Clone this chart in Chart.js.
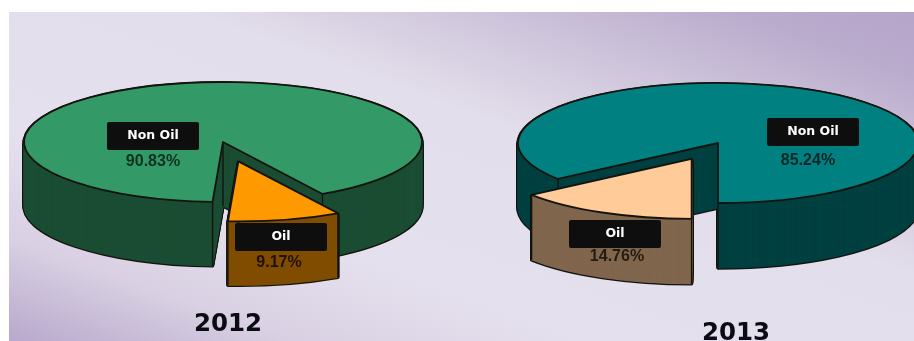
<!DOCTYPE html>
<html>
<head>
<meta charset="utf-8">
<style>
  html, body { margin: 0; padding: 0; width: 914px; height: 341px; overflow: hidden; background: #fff; }
  #panel {
    position: absolute; left: 9px; top: 12px; width: 905px; height: 329px;
    background: linear-gradient(to top right, #b8a8cc 0%, #d9d1e3 16%, #e5e0ee 32%, #e3deeb 60%, #cec4db 76%, #baaccd 90%, #b5a5ca 100%);
  }
  canvas { position: absolute; top: 0; }
</style>
<script src="https://cdn.jsdelivr.net/npm/chart.js@4/dist/chart.umd.min.js"></script>
</head>
<body>
<div id="panel"></div>
<canvas id="pie2012" width="460" height="341" style="left:0"></canvas>
<canvas id="pie2013" width="454" height="341" style="left:460px"></canvas>
<script>
const categories = ["Oil", "Non Oil"];
const values2012 = [9.17, 90.83];
const values2013 = [14.76, 85.24];

const topColors2012 = ["#ff9900", "#339966"];
const wallColors2012 = ["#804d00", "#1a4d33"];
const topColors2013 = ["#ffcc99", "#008080"];
const wallColors2013 = ["#80664d", "#004040"];

const outlineColor = "#14140f";

function slicePath(ctx, arc, x, y, squash) {
    ctx.beginPath();
    ctx.moveTo(x, y);
    ctx.ellipse(x, y, arc.outerRadius, arc.outerRadius * squash, 0, arc.startAngle, arc.endAngle);
    ctx.closePath();
}

function paintArc(ctx, arc, x, y, squash, color) {
    const saved = arc.options;
    arc.options = {...saved, backgroundColor: color};
    ctx.save();
    ctx.translate(x, y);
    ctx.scale(1, squash);
    ctx.translate(-arc.x, -arc.y);
    arc.draw(ctx);
    ctx.restore();
    arc.options = saved;
}

// tilted pie: each slice gets a dark wall stacked under its lit top
const tiltedPie = {
    id: "tiltedPie",
    beforeDatasetsDraw(chart, args, opts) {
        const ctx = chart.ctx;
        const arcs = chart.getDatasetMeta(0).data;
        const ds = chart.data.datasets[0];
        const squash = opts.ry / arcs[0].outerRadius;

        // Non Oil first so the pulled-out Oil slice lands on top of it
        [1, 0].forEach(i => {
            const arc = arcs[i];
            const mid = (arc.startAngle + arc.endAngle) / 2;
            const pull = i === 0 ? opts.pull : 0;
            const x = opts.cx + Math.cos(mid) * pull;
            const y = opts.cy + Math.sin(mid) * pull * squash;

            ctx.save();
            ctx.lineJoin = "round";
            ctx.strokeStyle = outlineColor;
            ctx.lineWidth = 3.4;
            for (let d = 1; d <= opts.depth; d++) {
                slicePath(ctx, arc, x, y + d, squash);
                ctx.stroke();
            }
            ctx.strokeStyle = opts.wallColors[i];
            ctx.lineWidth = 1;
            for (let d = opts.depth; d > 0; d--) {
                paintArc(ctx, arc, x, y + d, squash, opts.wallColors[i]);
                slicePath(ctx, arc, x, y + d, squash);
                ctx.stroke();
            }
            // vertical edges of the wall at the apex and both cut corners
            ctx.strokeStyle = outlineColor;
            ctx.lineWidth = 1.4;
            ctx.beginPath();
            ctx.moveTo(x, y);
            ctx.lineTo(x, y + opts.depth);
            [arc.startAngle, arc.endAngle].forEach(a => {
                const ex = x + Math.cos(a) * arc.outerRadius;
                const ey = y + Math.sin(a) * arc.outerRadius * squash;
                ctx.moveTo(ex, ey);
                ctx.lineTo(ex, ey + opts.depth);
            });
            ctx.stroke();

            paintArc(ctx, arc, x, y, squash, ds.backgroundColor[i]);
            ctx.lineWidth = 1.8;
            slicePath(ctx, arc, x, y, squash);
            ctx.stroke();
            ctx.restore();
        });
        return false;
    },
    afterDraw(chart, args, opts) {
        const ctx = chart.ctx;
        const values = chart.data.datasets[0].data;
        ctx.save();
        ctx.textAlign = "center";
        ctx.textBaseline = "middle";
        opts.labels.forEach((lab, i) => {
            ctx.fillStyle = "#0e0e0e";
            ctx.beginPath();
            ctx.roundRect(lab.boxX, lab.boxY, 92, 28, 2);
            ctx.fill();
            ctx.fillStyle = "#fff";
            ctx.font = "bold 12.5px 'DejaVu Sans'";
            ctx.fillText(chart.data.labels[i], lab.boxX + 46, lab.boxY + 14);
            ctx.fillStyle = lab.color;
            ctx.font = "bold 16px 'Liberation Sans'";
            ctx.fillText(values[i].toFixed(2) + "%", lab.textX, lab.textY);
        });
        ctx.fillStyle = "#0b0b14";
        ctx.font = "bold 24.5px 'DejaVu Sans'";
        ctx.textBaseline = "alphabetic";
        ctx.fillText(opts.year, opts.yearX, opts.yearY);
        ctx.restore();
    }
};

function drawPie(canvasId, values, topColors, rotation, radius, pluginOpts) {
    const ctx = document.getElementById(canvasId);
    return new Chart(ctx, {
        type: "pie",
        plugins: [tiltedPie],
        data: {
            labels: categories,
            datasets: [{
                data: values,
                backgroundColor: topColors,
                borderWidth: 0
            }]
        },
        options: {
            responsive: false,
            animation: false,
            rotation: rotation,
            radius: radius,
            layout: {padding: 0},
            plugins: {
                legend: {display: false},
                tooltip: {enabled: false},
                tiltedPie: pluginOpts
            }
        }
    });
}

drawPie("pie2012", values2012, topColors2012, 150, 199, {
    cx: 223, cy: 142, ry: 60, depth: 64, pull: 66,
    wallColors: wallColors2012,
    year: "2012", yearX: 228, yearY: 331,
    labels: [
        {boxX: 235, boxY: 223, textX: 279, textY: 263, color: "#1f1000"},
        {boxX: 107, boxY: 122, textX: 153, textY: 162, color: "#0b3024"}
    ]
});

drawPie("pie2013", values2013, topColors2013, 180, 200, {
    cx: 258, cy: 143, ry: 60, depth: 65, pull: 59,
    wallColors: wallColors2013,
    year: "2013", yearX: 276, yearY: 340,
    labels: [
        {boxX: 109, boxY: 220, textX: 157, textY: 257, color: "#241c12"},
        {boxX: 307, boxY: 118, textX: 348, textY: 161, color: "#032626"}
    ]
});
</script>
</body>
</html>
